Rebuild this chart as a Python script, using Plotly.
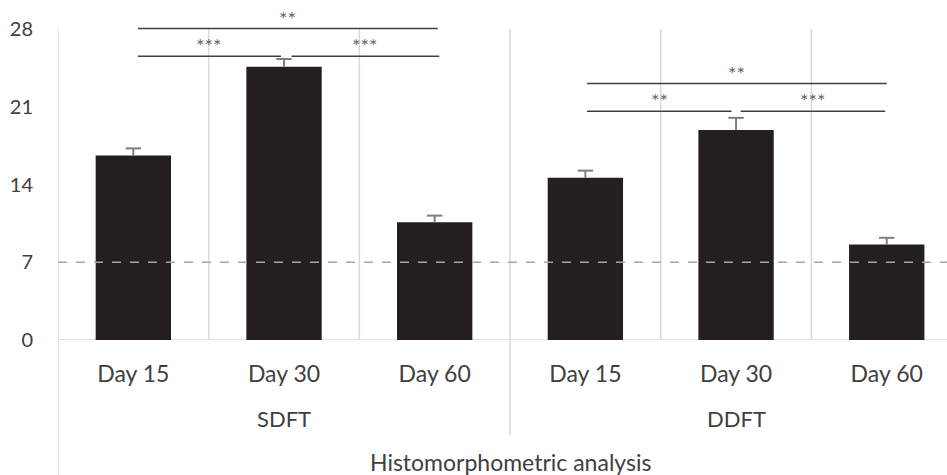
import plotly.graph_objects as go

groups = ["SDFT", "DDFT"]
days = ["Day 15", "Day 30", "Day 60"]
values = [16.6, 24.6, 10.6, 14.6, 18.9, 8.6]
errors = [0.65, 0.7, 0.6, 0.65, 1.1, 0.6]
y_ticks = [0, 7, 14, 21, 28]
reference_level = 7
axis_title = "Histomorphometric analysis"

# significance brackets: (x_start, x_end, line_level, label_level, label)
brackets = [
    (0.03, 2.02, 28.05, 28.95, "**"),
    (0.03, 0.98, 25.55, 26.6, "***"),
    (1.05, 2.03, 25.55, 26.6, "***"),
    (3.01, 5.0, 23.1, 24.05, "**"),
    (3.01, 3.97, 20.6, 21.65, "**"),
    (4.03, 4.99, 20.6, 21.65, "***"),
]

YMAX = 28
x = list(range(len(values)))
ticktext = days * len(groups)
err_tops = [v + e for v, e in zip(values, errors)]

FONT = "Lato"
TXT = "#404040"
GRID = "#d9d9d9"
ERRC = "#7f7f7f"

fig = go.Figure()
fig.add_trace(go.Bar(
    x=x, y=values, width=0.5,
    marker=dict(color="#231f20", line=dict(width=0)),
    showlegend=False, hoverinfo="skip",
))
# "T"-shaped upper error bars
fig.add_trace(go.Scatter(
    x=x, y=err_tops, mode="markers",
    marker=dict(symbol="line-ew-open", size=11, color=ERRC, line=dict(color=ERRC, width=2)),
    error_y=dict(type="data", symmetric=False, array=[0]*len(values), arrayminus=errors,
                 color=ERRC, thickness=2, width=0),
    showlegend=False, hoverinfo="skip",
))

shapes = []
for b in [0.5, 1.5, 3.5, 4.5]:
    shapes.append(dict(type="line", xref="x", yref="y", x0=b, x1=b, y0=0, y1=YMAX,
                       line=dict(color=GRID, width=1.5), layer="below"))
shapes.append(dict(type="line", xref="x", yref="paper", x0=2.5, x1=2.5, y0=-0.306, y1=1,
                   line=dict(color=GRID, width=1.5), layer="below"))
shapes.append(dict(type="line", xref="x", yref="paper", x0=-0.5, x1=-0.5, y0=-0.45, y1=1,
                   line=dict(color=GRID, width=1.5), layer="below"))
shapes.append(dict(type="line", xref="paper", yref="y", x0=0, x1=1, y0=0, y1=0,
                   line=dict(color=GRID, width=1.5), layer="below"))
shapes.append(dict(type="line", xref="paper", yref="y", x0=0, x1=1,
                   y0=reference_level, y1=reference_level,
                   line=dict(color="#a6a6a6", width=1.5, dash="dash"), layer="above"))

annotations = []
for x0, x1, yl, yt, lab in brackets:
    shapes.append(dict(type="line", xref="x", yref="paper", x0=x0, x1=x1,
                       y0=yl / YMAX, y1=yl / YMAX,
                       line=dict(color="#404040", width=1.5)))
    annotations.append(dict(x=(x0 + x1) / 2, y=yt / YMAX, xref="x", yref="paper",
                            text=lab, showarrow=False, yanchor="middle",
                            font=dict(family=FONT, size=20, color="#666666")))

for i, g in enumerate(groups):
    annotations.append(dict(x=i * 3 + 1, y=-0.254, xref="x", yref="paper", text=g,
                            showarrow=False, yanchor="middle",
                            font=dict(family=FONT, size=22, color=TXT)))
annotations.append(dict(x=2.5, y=-0.392, xref="x", yref="paper", text=axis_title,
                        showarrow=False, yanchor="middle",
                        font=dict(family=FONT, size=23, color=TXT)))

fig.update_layout(
    width=947, height=475,
    margin=dict(l=58, r=0, t=29, b=135),
    paper_bgcolor="white", plot_bgcolor="white",
    shapes=shapes, annotations=annotations,
    xaxis=dict(range=[-0.5, 5.4], tickvals=x, ticktext=ticktext, showgrid=False,
               zeroline=False, showline=False, ticks="", ticklabelstandoff=18,
               tickfont=dict(family=FONT, size=23, color=TXT)),
    yaxis=dict(range=[0, YMAX], tickvals=y_ticks, showgrid=False, zeroline=False,
               showline=False, ticks="", ticklabelstandoff=24,
               tickfont=dict(family=FONT, size=20, color=TXT)),
)

fig.write_html("out.html", config={"displayModeBar": False},
               post_script="document.body.style.margin='0';")
